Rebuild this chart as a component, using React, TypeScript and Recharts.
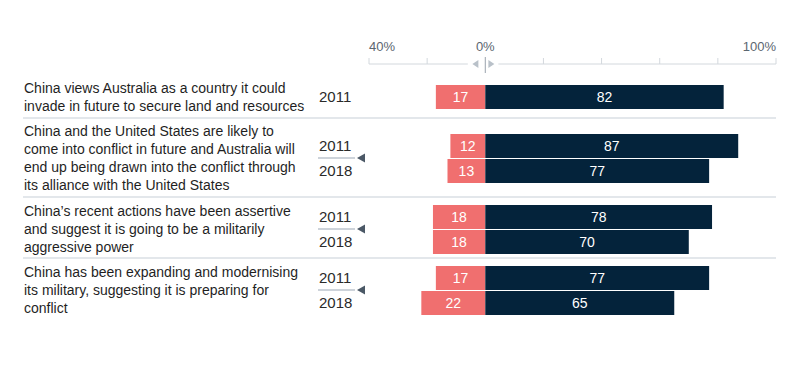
import React from 'react'
import {
  BarChart,
  Bar,
  XAxis,
  YAxis,
  LabelList,
  ComposedChart,
  Line,
  ReferenceLine,
  ReferenceDot,
} from 'recharts'

const statements = [
  'China views Australia as a country it could\ninvade in future to secure land and resources',
  'China and the United States are likely to\ncome into conflict in future and Australia will\nend up being drawn into the conflict through\nits alliance with the United States',
  'China\u2019s recent actions have been assertive\nand suggest it is going to be a militarily\naggressive power',
  'China has been expanding and modernising\nits military, suggesting it is preparing for\nconflict',
]
const surveyYears = [['2011'], ['2011', '2018'], ['2011', '2018'], ['2011', '2018']]
const disagree = [[17], [12, 13], [18, 18], [17, 22]]
const agree = [[82], [87, 77], [78, 70], [77, 65]]

const axisTicks = [-40, -20, 0, 20, 40, 60, 80, 100]
const labelTicks = [-40, 0, 100]
const labelTexts = ['40%', '0%', '100%']

const FONT = '"Liberation Sans", Arial, sans-serif'
const RED = '#f06f6f'
const NAVY = '#04233b'
const WIDTH = 800
const ROW = 25
const MARGIN = { top: 0, right: 24, bottom: 0, left: 319 }

// pixel tops of each group's first bar band
const groupTops = [84, 133, 204, 265]
const separators = [117, 196, 257]

function YearTick(props: any) {
  const { y, payload, index, rows } = props
  const mid = y + ROW / 2
  return (
    <g>
      <text x={319} y={y} dy={5} fontSize={15} fill="#2a2a2a" fontFamily={FONT}>
        {payload.value}
      </text>
      {rows > 1 && index === 0 && (
        <>
          <line x1={318} x2={355} y1={mid} y2={mid} stroke="#cdd3da" strokeWidth={2} />
          <path d={`M357 ${mid} L365 ${mid - 4.5} L365 ${mid + 4.5} Z`} fill="#4b5866" />
        </>
      )}
    </g>
  )
}

function GroupChart({ gi }: { gi: number }) {
  const rows = surveyYears[gi].map((year, i) => ({
    year,
    disagree: disagree[gi][i],
    disagreeNeg: -disagree[gi][i],
    agree: agree[gi][i],
  }))
  return (
    <div style={{ position: 'absolute', left: 0, top: groupTops[gi] }}>
      <BarChart
        width={WIDTH}
        height={rows.length * ROW}
        data={rows}
        layout="vertical"
        stackOffset="sign"
        barCategoryGap={0}
        margin={MARGIN}
      >
        <XAxis type="number" domain={[-40, 100]} hide />
        <YAxis
          type="category"
          dataKey="year"
          width={50}
          axisLine={false}
          tickLine={false}
          tick={(p: any) => <YearTick {...p} rows={rows.length} />}
        />
        <Bar dataKey="disagreeNeg" stackId="a" fill={RED} barSize={24} isAnimationActive={false}>
          <LabelList dataKey="disagree" position="center" fill="#fff" fontSize={14} fontFamily={FONT} />
        </Bar>
        <Bar dataKey="agree" stackId="a" fill={NAVY} barSize={24} isAnimationActive={false}>
          <LabelList dataKey="agree" position="center" fill="#fff" fontSize={14} fontFamily={FONT} />
        </Bar>
      </BarChart>
    </div>
  )
}

function TopAxis() {
  const data = axisTicks.map((v) => ({ v, y: 29 }))
  return (
    <div style={{ position: 'absolute', left: 0, top: 35 }}>
      <ComposedChart width={WIDTH} height={40} data={data} margin={{ top: 0, right: 24, bottom: 0, left: 369 }}>
        <XAxis type="number" dataKey="v" domain={[-40, 100]} hide />
        <YAxis type="number" domain={[0, 40]} reversed hide />
        <Line dataKey="y" stroke="none" dot={false} isAnimationActive={false} />
        <ReferenceLine segment={[{ x: -40, y: 29 }, { x: -6, y: 29 }]} stroke="#d3d8dd" />
        <ReferenceLine segment={[{ x: 4.5, y: 29 }, { x: 100, y: 29 }]} stroke="#d3d8dd" />
        {axisTicks
          .filter((t) => t !== 0)
          .map((t) => (
            <ReferenceLine key={t} segment={[{ x: t, y: 23 }, { x: t, y: 29 }]} stroke="#d3d8dd" />
          ))}
        <ReferenceLine segment={[{ x: 0, y: 22 }, { x: 0, y: 38 }]} stroke="#9aa3ad" />
        <ReferenceDot
          x={-3.4}
          y={29}
          r={3}
          shape={(p: any) => (
            <path d={`M${p.cx - 3} ${p.cy} L${p.cx + 3} ${p.cy - 4} L${p.cx + 3} ${p.cy + 4} Z`} fill="#b9c1c9" />
          )}
        />
        <ReferenceDot
          x={2.1}
          y={29}
          r={3}
          shape={(p: any) => (
            <path d={`M${p.cx + 3} ${p.cy} L${p.cx - 3} ${p.cy - 4} L${p.cx - 3} ${p.cy + 4} Z`} fill="#b9c1c9" />
          )}
        />
        {labelTicks.map((t, i) => (
          <ReferenceDot
            key={t}
            x={t}
            y={16}
            r={3}
            shape={(p: any) => (
              <text
                x={p.cx}
                y={p.cy}
                textAnchor={i === 0 ? 'start' : i === labelTicks.length - 1 ? 'end' : 'middle'}
                fontSize={13}
                fill="#5b6670"
                fontFamily={FONT}
              >
                {labelTexts[i]}
              </text>
            )}
          />
        ))}
      </ComposedChart>
    </div>
  )
}

export default function App() {
  return (
    <div
      style={{
        position: 'absolute',
        left: 0,
        top: 0,
        width: WIDTH,
        height: 365,
        background: '#fff',
        fontFamily: FONT,
        overflow: 'hidden',
      }}
    >
      <TopAxis />
      {separators.map((y) => (
        <div key={y} style={{ position: 'absolute', left: 23, top: y, width: 753, height: 2, background: '#e3e7eb' }} />
      ))}
      {statements.map((s, gi) => {
        const center = groupTops[gi] + (surveyYears[gi].length * ROW) / 2
        return (
          <div
            key={gi}
            style={{
              position: 'absolute',
              left: 24,
              top: center - 50,
              height: 100,
              width: 290,
              display: 'flex',
              alignItems: 'center',
              whiteSpace: 'pre-line',
              fontSize: 14,
              lineHeight: '18px',
              color: '#1f1f1f',
            }}
          >
            {s}
          </div>
        )
      })}
      {groupTops.map((_, gi) => (
        <GroupChart key={gi} gi={gi} />
      ))}
    </div>
  )
}
